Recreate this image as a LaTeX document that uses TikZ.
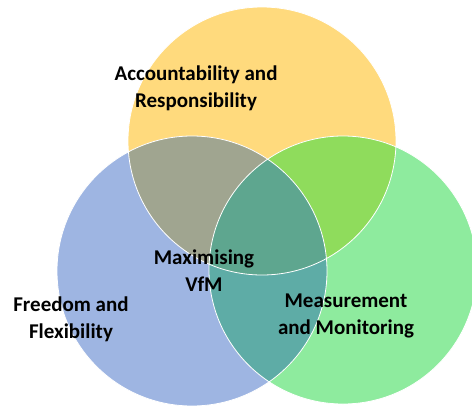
\documentclass[tikz,border=0pt]{standalone}
\usepackage{fontspec}
\setmainfont{Carlito}
\begin{document}
\begin{tikzpicture}[x=1pt,y=-1pt,
  lbl/.style={font=\bfseries\fontsize{21}{27}\selectfont, align=center, text=black, inner sep=0pt},
  rim/.style={draw=white, line width=0.8pt}]
\useasboundingbox (0,0) rectangle (472,405);
\definecolor{cY}{RGB}{255,218,125}
\definecolor{cB}{RGB}{158,181,226}
\definecolor{cG}{RGB}{142,235,158}
\definecolor{cYB}{RGB}{160,165,144}
\definecolor{cYG}{RGB}{143,220,92}
\definecolor{cBG}{RGB}{94,172,166}
\definecolor{cYBG}{RGB}{94,166,143}
\coordinate (Y) at (262,141);
\coordinate (B) at (192,271);
\coordinate (G) at (343,270);
\def\rY{134}\def\rB{135}\def\rG{134}
\begin{scope}
\clip (0,0) rectangle (472,405);
\fill[cY] (Y) circle (\rY);
\fill[cB] (B) circle (\rB);
\fill[cG] (G) circle (\rG);
\begin{scope}\clip (Y) circle (\rY); \fill[cYB] (B) circle (\rB); \fill[cYG] (G) circle (\rG);\end{scope}
\begin{scope}\clip (B) circle (\rB); \fill[cBG] (G) circle (\rG);
  \clip (G) circle (\rG); \fill[cYBG] (Y) circle (\rY);\end{scope}
\draw[rim] (Y) circle (\rY);
\draw[rim] (B) circle (\rB);
\draw[rim] (G) circle (\rG);
\end{scope}
\node[lbl] (acc) at (196,88) {Accountability and\\Responsibility};
\node[lbl] (vfm) at (204,271) {Maximising\\VfM};
\node[lbl] (ff) at (71,319) {Freedom and\\Flexibility};
\node[lbl] (mm) at (346,316) {Measurement\\and Monitoring};
\end{tikzpicture}
\end{document}
